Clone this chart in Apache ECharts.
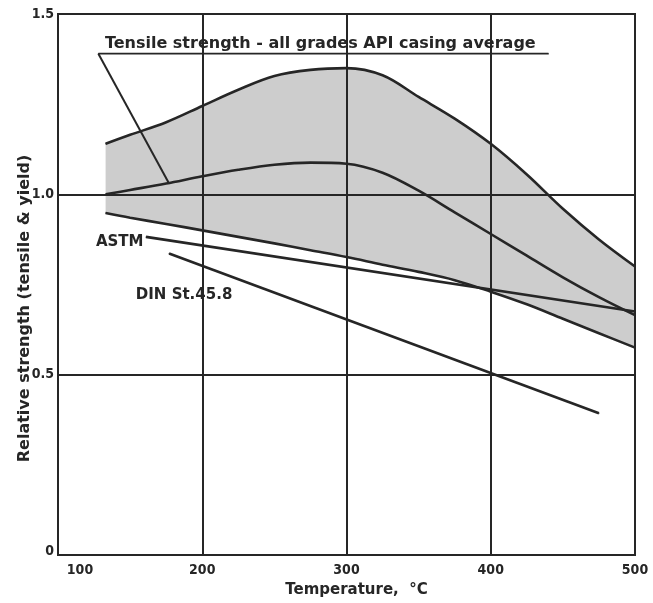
<!DOCTYPE html>
<html>
<head>
<meta charset="utf-8">
<script src="https://cdn.jsdelivr.net/npm/echarts@6/dist/echarts.min.js"></script>
<style>
  html, body { margin: 0; padding: 0; background: #ffffff; }
  #chart { width: 653px; height: 603px; }
</style>
</head>
<body>
<div id="chart"></div>
<script>
// Temperatures (°C) at which the casing band curves are tabulated
const temps = [133, 150, 175, 200, 225, 250, 275, 300, 325, 350, 375, 400, 425, 450, 475, 500];
// Upper edge of the API casing tensile band
const tensileUpper = [1.14, 1.165, 1.20, 1.245, 1.29, 1.328, 1.345, 1.35, 1.33, 1.27, 1.21, 1.14, 1.055, 0.96, 0.875, 0.80];
// Average of all API casing grades
const casingAverage = [1.0, 1.012, 1.03, 1.05, 1.068, 1.082, 1.088, 1.085, 1.06, 1.01, 0.95, 0.89, 0.83, 0.77, 0.715, 0.665];
// Lower edge of the band
const tensileLower = [0.948, 0.935, 0.918, 0.90, 0.882, 0.864, 0.845, 0.826, 0.805, 0.785, 0.762, 0.73, 0.695, 0.655, 0.615, 0.575];

// ASTM and DIN St.45.8 straight lines
const astmTemps = [161, 500];
const astmValues = [0.882, 0.675];
const dinTemps = [177, 475];
const dinValues = [0.836, 0.393];

// Callout leader and underline for the band caption
const leaderTemps = [128, 177];
const leaderValues = [1.39, 1.03];
const underlineTemps = [128, 440];
const underlineValues = [1.39, 1.39];

// Axis tick labels
const xTickLabels = { 100: '100', 200: '200', 300: '300', 400: '400', 500: '500' };
const yTickLabels = { 0: '0', 0.5: '0.5', 1: '1.0', 1.5: '1.5' };

const captionText = 'Tensile strength - all grades API casing average';
const astmText = 'ASTM';
const dinText = 'DIN St.45.8';

const ink = '#262626';
const font = "'DejaVu Sans', sans-serif";
const narrow = "'DejaVu Sans Condensed', 'DejaVu Sans', sans-serif";

const zip = (xs, ys) => xs.map((x, i) => [x, ys[i]]);

function plainLine(name, data, extra) {
  return Object.assign({
    name: name,
    type: 'line',
    data: data,
    symbol: 'circle',
    symbolSize: 1,
    smooth: 0.35,
    silent: true,
    itemStyle: { color: ink },
    lineStyle: { color: ink, width: 2.6 },
    emphasis: { disabled: true },
    z: 5
  }, extra || {});
}

function labelled(xs, ys, label) {
  const d = zip(xs, ys);
  d[0] = { value: d[0], label: Object.assign({ show: true, color: ink, fontFamily: font, fontWeight: 'bold' }, label) };
  return d;
}

const chart = echarts.init(document.getElementById('chart'), null, { renderer: 'canvas' });

chart.setOption({
  animation: false,
  backgroundColor: '#ffffff',
  grid: {
    left: 58, right: 18, top: 14, bottom: 45,
    show: true, borderColor: ink, borderWidth: 2, backgroundColor: 'transparent'
  },
  xAxis: {
    type: 'value',
    z: 10,
    min: 100, max: 500, interval: 100,
    name: 'Temperature,  °C',
    nameLocation: 'middle',
    nameGap: 28,
    nameTextStyle: { color: ink, fontFamily: font, fontWeight: 'bold', fontSize: 15, padding: [0, 0, 0, 20] },
    axisLine: { show: true, lineStyle: { color: ink, width: 2 } },
    axisTick: { show: false },
    splitLine: { show: true, lineStyle: { color: ink, width: 2 } },
    axisLabel: {
      color: ink, fontFamily: narrow, fontWeight: 'bold', fontSize: 14, margin: 8,
      formatter: v => v === 100 ? '{first|' + xTickLabels[v] + '}' : xTickLabels[v],
      rich: { first: { padding: [0, 0, 0, 44], fontFamily: narrow, fontWeight: 'bold', fontSize: 14, color: ink } }
    }
  },
  yAxis: {
    type: 'value',
    z: 10,
    min: 0, max: 1.5, interval: 0.5,
    name: 'Relative strength (tensile & yield)',
    nameLocation: 'middle',
    nameGap: 25,
    nameMoveOverlap: false,
    nameRotate: 90,
    nameTextStyle: { color: ink, fontFamily: font, fontWeight: 'bold', fontSize: 16, padding: [0, 48, 0, 0] },
    axisLine: { show: true, lineStyle: { color: ink, width: 2 } },
    axisTick: { show: false },
    splitLine: { show: true, lineStyle: { color: ink, width: 2 } },
    axisLabel: {
      color: ink, fontFamily: narrow, fontWeight: 'bold', fontSize: 14, margin: 4,
      formatter: v => v === 0 ? '{zero|0}' : yTickLabels[v],
      rich: { zero: { padding: [0, 0, 8, 6], fontFamily: narrow, fontWeight: 'bold', fontSize: 14, color: ink } }
    }
  },
  series: [
    // shaded band: grey fill under the upper edge, masked in white under the lower edge
    {
      name: 'band-fill', type: 'line', data: zip(temps, tensileUpper),
      symbol: 'none', smooth: 0.35, silent: true, lineStyle: { opacity: 0 },
      areaStyle: { color: '#cdcdcd', opacity: 1 }, z: 1
    },
    {
      name: 'band-mask', type: 'line', data: zip(temps, tensileLower),
      symbol: 'none', smooth: 0.35, silent: true, lineStyle: { opacity: 0 },
      areaStyle: { color: '#ffffff', opacity: 1, shadowColor: '#ffffff', shadowBlur: 0, shadowOffsetX: -1.5 }, z: 2
    },
    plainLine('upper', zip(temps, tensileUpper)),
    plainLine('average', zip(temps, casingAverage)),
    plainLine('lower', zip(temps, tensileLower)),
    plainLine('ASTM', labelled(astmTemps, astmValues, {
      formatter: astmText, position: 'left', distance: 2, fontSize: 15, offset: [0, 5]
    }), { smooth: false }),
    plainLine('DIN St.45.8', labelled(dinTemps, dinValues, {
      formatter: dinText, position: 'bottom', distance: 5, fontSize: 15, offset: [15, 29]
    }), { smooth: false }),
    plainLine('leader', labelled(leaderTemps, leaderValues, {
      formatter: captionText, position: 'right', distance: 6, fontSize: 16, offset: [0, -10]
    }), { smooth: false, lineStyle: { color: ink, width: 2 } }),
    plainLine('underline', zip(underlineTemps, underlineValues), {
      smooth: false, lineStyle: { color: ink, width: 1.6 }
    })
  ]
});
</script>
</body>
</html>
